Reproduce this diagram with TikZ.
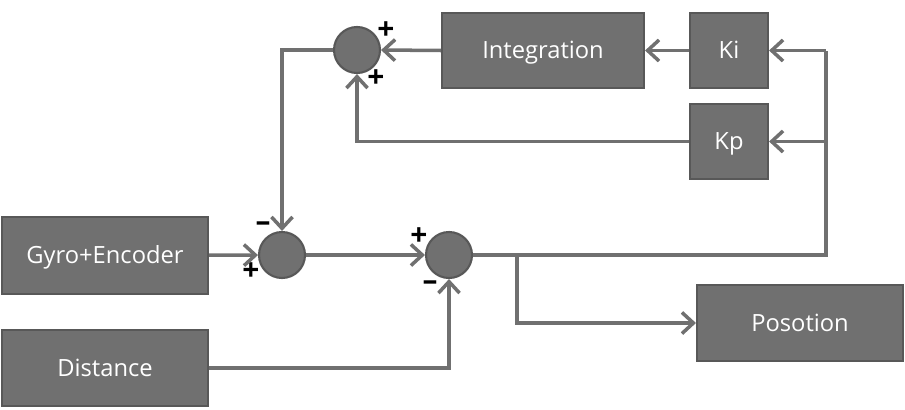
\documentclass[tikz,border=0pt]{standalone}
\usepackage{fontspec}
\setmainfont{Open Sans}
\usetikzlibrary{arrows.meta}
\definecolor{boxgray}{RGB}{112,112,112}
\definecolor{edgegray}{RGB}{88,88,88}
\definecolor{linegray}{RGB}{112,112,112}
\tikzset{
  block/.style={draw=edgegray, line width=1.2pt, fill=boxgray, text=white,
    font=\fontsize{13.5}{15}\selectfont, minimum height=1.5cm, inner sep=0pt,
    text height=12.8pt, text depth=3.2pt},
  sumnode/.style={circle, draw=edgegray, line width=1.2pt, fill=boxgray,
    minimum size=0.92cm, inner sep=0pt},
  wire/.style={line width=2pt, draw=linegray},
  sig/.style={wire, -{Straight Barb[length=6.5pt,width=12pt,line width=2pt]}},
  sign/.style={font=\bfseries\fontsize{17}{17}\selectfont, text=black, inner sep=0pt}
}

\begin{document}
\begin{tikzpicture}[x=0.02cm,y=-0.02cm]
\useasboundingbox (0,0) rectangle (905,409);
% blocks
\node[block, minimum width=1.56cm] (ki) at (729,50.5) {Ki};
\node[block, minimum width=1.56cm] (kp) at (729,141.5) {Kp};
\node[block, minimum width=4.04cm] (integ) at (543,50.5) {Integration};
\node[block, minimum width=4.12cm, minimum height=1.54cm] (gyro) at (105,255.5) {Gyro+Encoder};
\node[block, minimum width=4.12cm, minimum height=1.52cm] (dist) at (105,368) {Distance};
\node[block, minimum width=4.12cm, minimum height=1.52cm] (pos) at (800,323) {Posotion};
% summing points
\node[sumnode] (s1) at (357,50) {};
\node[sumnode] (s2) at (282,255) {};
\node[sumnode] (s3) at (449,255) {};
% signs
\node[sign] (s1a) at (386,31) {+};
\node[sign] (s1b) at (376,79) {+};
\node[sign] (s2a) at (263,227) {--};
\node[sign] (s2b) at (251,272) {+};
\node[sign] (s3a) at (419,237) {+};
\node[sign] (s3b) at (430,286) {--};
% feedback path
\coordinate (fb) at (826,255);
\coordinate (fbki) at (826,50.5);
\coordinate (fbkp) at (826,141.5);
\coordinate (br) at (517,255);
\draw[wire] (s3.east) -- (fb) -- (fbki);
\draw[sig] (fbki) -- (ki.east);
\draw[sig] (fbkp) -- (kp.east);
\draw[sig] (ki) -- (integ);
\draw[sig] (integ.west) -- (s1.east);
\draw[sig] (kp.west) -| (s1.south);
\draw[sig] (s1.west) -| (s2.north);
\draw[sig] (gyro) -- (s2);
\draw[sig] (s2) -- (s3);
\draw[sig] (dist.east) -| (s3.south);
\draw[sig] (br) |- (pos.west);
\end{tikzpicture}
\end{document}
